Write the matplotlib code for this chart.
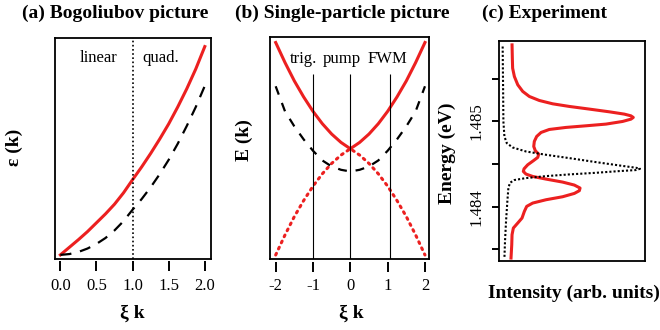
import matplotlib
matplotlib.use("Agg")
import matplotlib.pyplot as plt
import numpy as np

plt.rcParams['font.family'] = ['Liberation Serif', 'DejaVu Serif']

RED = '#ec2020'

# (a) Bogoliubov picture
xa = [0, 0.125, 0.25, 0.375, 0.5, 0.625, 0.75, 0.875, 1.0,
      1.125, 1.25, 1.375, 1.5, 1.625, 1.75, 1.875, 2.0]
bogo = [0, 0.18, 0.36, 0.55, 0.76, 0.97, 1.2, 1.47, 1.78,
        2.08, 2.40, 2.74, 3.1, 3.5, 3.93, 4.4, 4.93]
free = [0, 0.02, 0.07, 0.15, 0.26, 0.40, 0.58, 0.8, 1.07,
        1.32, 1.6, 1.91, 2.25, 2.63, 3.05, 3.5, 4.0]
xa_ticks = [0.0, 0.5, 1.0, 1.5, 2.0]

# (b) single-particle picture
xb = [-2, -1.75, -1.5, -1.25, -1, -0.75, -0.5, -0.25, 0,
      0.25, 0.5, 0.75, 1, 1.25, 1.5, 1.75, 2]
upper = [6.46, 5.86, 5.31, 4.83, 4.40, 4.03, 3.72, 3.47, 3.28,
         3.47, 3.72, 4.03, 4.40, 4.83, 5.31, 5.86, 6.46]
lower = [0.10, 0.70, 1.25, 1.73, 2.16, 2.53, 2.84, 3.09, 3.28,
         3.09, 2.84, 2.53, 2.16, 1.73, 1.25, 0.70, 0.10]
disp = [5.15, 4.40, 3.95, 3.56, 3.22, 2.93, 2.75, 2.65, 2.60,
        2.65, 2.75, 2.93, 3.22, 3.56, 3.95, 4.40, 5.15]
marks_x = [-1, 0, 1.05]
marks_lab = ['trig.', 'pump', 'FWM']
marks_tx = [-1.26, -0.23, 0.98]
xb_ticks = [-2, -1, 0, 1, 2]

# (c) experiment: energy (eV) vs intensity (arb. units)
e_exp = [1.485898, 1.485742, 1.485625, 1.485527, 1.485430, 1.485352,
         1.485293, 1.485246, 1.485207, 1.485176, 1.485145, 1.485113,
         1.485086, 1.485066, 1.485047, 1.485027, 1.485000, 1.484969,
         1.484949, 1.484930, 1.484906, 1.484871, 1.484824, 1.484766,
         1.484707, 1.484656, 1.484617, 1.484578, 1.484539, 1.484492,
         1.484445, 1.484414, 1.484383, 1.484355, 1.484324, 1.484289,
         1.484254, 1.484219, 1.484188, 1.484156, 1.484117, 1.484082,
         1.484043, 1.484004, 1.483945, 1.483867, 1.483809, 1.483750,
         1.483672, 1.483555, 1.483398]
i_exp = [0.091, 0.093, 0.095, 0.107, 0.130, 0.164,
         0.209, 0.277, 0.368, 0.482, 0.618, 0.755,
         0.857, 0.902, 0.918, 0.902, 0.845, 0.732,
         0.595, 0.459, 0.345, 0.289, 0.259, 0.243,
         0.239, 0.250, 0.273, 0.266, 0.236, 0.198,
         0.173, 0.168, 0.186, 0.232, 0.323, 0.436,
         0.516, 0.555, 0.550, 0.516, 0.436, 0.323,
         0.232, 0.191, 0.175, 0.159, 0.130, 0.100,
         0.091, 0.089, 0.084]
e_ref = [1.485879, 1.485391, 1.485000, 1.484824, 1.484746, 1.484695,
         1.484648, 1.484609, 1.484570, 1.484523, 1.484484, 1.484457,
         1.484445, 1.484430, 1.484418, 1.484398, 1.484379, 1.484359,
         1.484336, 1.484313, 1.484281, 1.484219, 1.484063, 1.483828,
         1.483594, 1.483398]
i_ref = [0.027, 0.030, 0.032, 0.039, 0.055, 0.095,
         0.186, 0.323, 0.482, 0.664, 0.823, 0.936,
         0.964, 0.936, 0.823, 0.664, 0.482, 0.323,
         0.186, 0.107, 0.077, 0.066, 0.059, 0.050,
         0.043, 0.039]
yc_ticks = [1.4835, 1.4840, 1.4845, 1.4850, 1.4855]
yc_labels = ['', '1.484', '', '1.485', '']

W, H = 660, 330
fig = plt.figure(figsize=(6.6, 3.3), dpi=100)


def box(l, r, t, b):
    return [l / W, (H - b) / H, (r - l) / W, (b - t) / H]


def style(ax):
    for s in ax.spines.values():
        s.set_linewidth(1.3)


def bottom_ticks(ax, ticks, labels):
    ax.tick_params(bottom=False, labelbottom=False, left=False, labelleft=False)
    sec = ax.secondary_xaxis(-0.012)
    sec.set_xticks(ticks)
    sec.set_xticklabels(labels)
    sec.spines['bottom'].set_visible(False)
    sec.tick_params(length=7, width=1.4, labelsize=12, pad=5)


axa = fig.add_axes(box(55.3, 211.3, 37.7, 258.7))
axa.plot(xa, bogo, color=RED, lw=2.2)
axa.plot(xa, free, color='black', lw=1.6, dashes=(5, 4))
axa.axvline(1.0, color='black', lw=1.2, ls=(0, (1, 1.5)))
axa.text(0.53, 4.67, 'linear', ha='center', va='center', fontsize=12)
axa.text(1.39, 4.67, 'quad.', ha='center', va='center', fontsize=12)
axa.set_xlim(-0.07, 2.09)
axa.set_ylim(-0.09, 5.14)
style(axa)
bottom_ticks(axa, xa_ticks, ['%.1f' % t for t in xa_ticks])

axb = fig.add_axes(box(269.7, 428.7, 37.5, 259.0))
axb.plot(xb, upper, color=RED, lw=2.2)
axb.plot(xb, lower, color=RED, lw=2.2, ls=(0, (0.6, 1.6)), dash_capstyle='round')
axb.plot(xb, disp, color='black', lw=1.6, dashes=(4, 4))
axb.vlines(marks_x, -0.1, 5.53, color='black', lw=0.8)
for tx, lab in zip(marks_tx, marks_lab):
    axb.text(tx, 5.96, lab, ha='center', va='center', fontsize=12)
axb.set_xlim(-2.16, 2.1)
axb.set_ylim(-0.02, 6.61)
style(axb)
bottom_ticks(axb, xb_ticks, [str(t) for t in xb_ticks])

axc = fig.add_axes(box(498.7, 645.3, 41.3, 261.3))
axc.plot(i_exp, e_exp, color=RED, lw=2.2, solid_joinstyle='round')
axc.plot(i_ref, e_ref, color='black', lw=1.5, ls=(0, (1, 1)))
axc.set_xlim(0, 1)
axc.set_ylim(1.48336, 1.48594)
axc.set_xticks([])
axc.set_yticks(yc_ticks)
axc.set_yticklabels(yc_labels, rotation=90, va='center')
axc.tick_params(axis='y', length=5, width=1.4, labelsize=12, pad=5)
style(axc)

# titles and axis labels
fig.text(22 / W, 1 - 13 / H, '(a) Bogoliubov picture', fontsize=14,
         fontweight='bold', va='center')
fig.text(235 / W, 1 - 13 / H, '(b) Single-particle picture', fontsize=14,
         fontweight='bold', va='center')
fig.text(482 / W, 1 - 13 / H, '(c) Experiment', fontsize=14,
         fontweight='bold', va='center')
fig.text(14 / W, 1 - 147 / H, 'ε (k)', fontsize=14, fontweight='bold',
         rotation=90, ha='center', va='center')
fig.text(244 / W, 1 - 140 / H, 'E (k)', fontsize=14, fontweight='bold',
         rotation=90, ha='center', va='center')
fig.text(447 / W, 1 - 153 / H, 'Energy (eV)', fontsize=14, fontweight='bold',
         rotation=90, ha='center', va='center')
fig.text(132 / W, 1 - 313 / H, 'ξ k', fontsize=14, fontweight='bold',
         ha='center', va='center')
fig.text(351 / W, 1 - 313 / H, 'ξ k', fontsize=14, fontweight='bold',
         ha='center', va='center')
fig.text(574 / W, 1 - 293 / H, 'Intensity (arb. units)', fontsize=14,
         fontweight='bold', ha='center', va='center')

fig.savefig('out.png', dpi=100)
